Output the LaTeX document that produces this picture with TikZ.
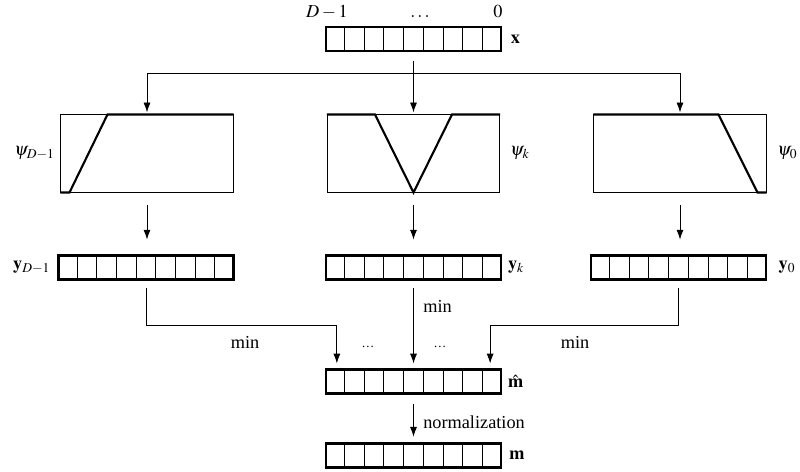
\documentclass[tikz,border=0pt]{standalone}
\usepackage{mathptmx}
\usepackage[no-math]{fontspec}
\setmainfont{Liberation Serif}
\usetikzlibrary{arrows.meta,calc,positioning}

\tikzset{
  reg/.style={draw,line width=1.6pt,minimum width=4.375cm,minimum height=0.6cm,inner sep=0pt},
  psibox/.style={draw,line width=0.7pt,minimum width=4.3cm,minimum height=1.925cm,inner sep=0pt},
  curve/.style={line width=1.5pt,line join=miter},
  flow/.style={-{Latex[length=7pt,width=5pt]},line width=0.6pt},
  lab/.style={inner sep=0pt,font=\fontsize{13}{15}\selectfont},
}
% 寄存器的格子
\newcommand{\cells}[1]{%
  \foreach \i in {1,...,8}
    \draw[line width=0.7pt] ($(#1.south west)!\i/9!(#1.south east)$) -- ($(#1.north west)!\i/9!(#1.north east)$);
}

\begin{document}
\begin{tikzpicture}[x=0.025cm,y=-0.025cm]
  \useasboundingbox (0,0) rectangle (800,472);
  % 输入
  \node[reg] (x) at (413.5,39) {}; \cells{x}
  \node[lab,right=6pt of x] (xlab) {$\mathbf{x}$};
  \node[lab,anchor=base] (hi) at (327,18) {$D-1$};
  \node[lab,anchor=base] (mid) at (420,18) {$\ldots$};
  \node[lab,anchor=base] (lo) at (498,18) {$0$};
  % 三个 psi
  \node[psibox] (psiL) at (147,153.5) {};
  \node[psibox] (psik) at (413.5,153.5) {};
  \node[psibox] (psiR) at (680,153.5) {};
  \node[lab,left=4pt of psiL] (psiLlab) {$\psi_{D-1}$};
  \node[lab,right=7pt of psik] (psiklab) {$\psi_k$};
  \node[lab,right=7.5pt of psiR] (psiRlab) {$\psi_0$};
  \draw[curve] (psiL.south west) -- ++(9,0) -- ($(psiL.north west)+(47,0)$) -- (psiL.north east);
  \draw[curve] (psik.north west) -- ++(48,0) -- (psik.south) -- ($(psik.north west)+(125,0)$) -- (psik.north east);
  \draw[curve] (psiR.north west) -- ++(125,0) -- ($(psiR.south east)+(-9,0)$) -- (psiR.south east);
  % 分叉
  \coordinate (fork) at ($(x.south)+(0,21)$);
  \draw[line width=0.6pt] ($(x.south)+(0,9)$) -- (fork);
  \draw[flow,shorten >=1.5pt] (fork) -| (psiL.north);
  \draw[flow,shorten >=1.5pt] (fork) -- (psik.north);
  \draw[flow,shorten >=1.5pt] (fork) -| (psiR.north);
  % y 寄存器
  \node[reg] (yL) at (146,267.5) {}; \cells{yL}
  \node[reg] (yk) at (413.5,267.5) {}; \cells{yk}
  \node[reg] (yR) at (678.5,267.5) {}; \cells{yR}
  \node[lab,left=5pt of yL] (yLlab) {$\mathbf{y}_{D-1}$};
  \node[lab,right=4pt of yk] (yklab) {$\mathbf{y}_k$};
  \node[lab,right=8pt of yR] (yRlab) {$\mathbf{y}_0$};
  \draw[flow,shorten <=9pt,shorten >=10.5pt] (psiL.south) -- (yL.north -| psiL.south);
  \draw[flow,shorten <=9pt,shorten >=10.5pt] (psik.south) -- (yk.north);
  \draw[flow,shorten <=9pt,shorten >=10.5pt] (psiR.south) -- (yR.north -| psiR.south);
  % min
  \node[reg] (mhat) at (413.5,381.5) {}; \cells{mhat}
  \node[lab,right=4pt of mhat] (mhatlab) {$\hat{\mathbf{m}}$};
  \draw[flow,shorten <=5.5pt,shorten >=3.5pt] (yL.south) -- ++(0,45) -| ($(mhat.north west)+(12,0)$);
  \draw[flow,shorten <=5.5pt,shorten >=3.5pt] (yk.south) -- (mhat.north);
  \draw[flow,shorten <=5.5pt,shorten >=3.5pt] (yR.south) -- ++(0,45) -| ($(mhat.north east)+(-12,0)$);
  \node[lab] (minL) at (245,342) {min};
  \node[lab,anchor=west] (mink) at (423,306) {min};
  \node[lab] (minR) at (575,342) {min};
  \node[lab,font=\fontsize{9}{9}\selectfont] (dotsL) at (368,347) {…};
  \node[lab,font=\fontsize{9}{9}\selectfont] (dotsR) at (440,347) {…};
  % 归一化
  \node[reg] (m) at (413.5,455.5) {}; \cells{m}
  \node[lab,right=5pt of m] (mlab) {$\mathbf{m}$};
  \draw[flow,shorten <=7pt,shorten >=4pt] (mhat.south) -- (m.north);
  \node[lab,anchor=west] (norm) at (423,422) {normalization};
\end{tikzpicture}
\end{document}
